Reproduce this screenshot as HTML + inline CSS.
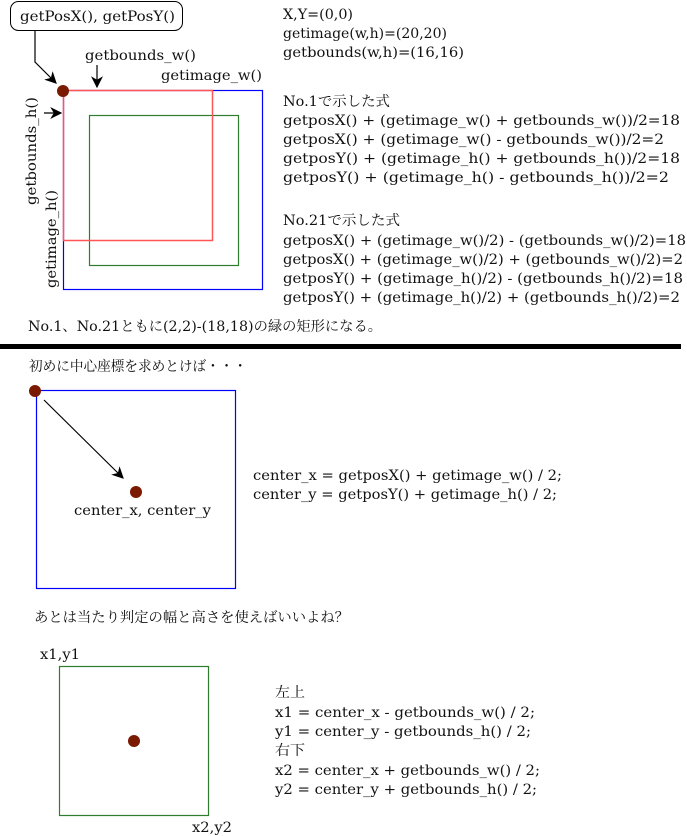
<!DOCTYPE html>
<html><head><meta charset="utf-8"><style>
html,body{margin:0;padding:0;background:#fff;}
svg{display:block;}
text{font-family:"DejaVu Serif","Liberation Serif","Noto Serif CJK SC","Noto Sans CJK JP",serif;font-size:14px;fill:#111;}
</style></head><body>
<svg width="687" height="836" viewBox="0 0 687 836" xmlns="http://www.w3.org/2000/svg">
<defs>
<marker id="ah" viewBox="0 0 10 10" refX="9" refY="5" markerWidth="12" markerHeight="12" orient="auto" markerUnits="userSpaceOnUse">
<path d="M0,0 L10,5 L0,10 L3,5 z" fill="#000"/>
</marker>
</defs>
<rect x="10.5" y="1.5" width="172" height="29" rx="8" fill="#fff" stroke="#000"/>
<text x="20" y="21" textLength="155" lengthAdjust="spacingAndGlyphs">getPosX(), getPosY()</text>
<polyline points="35,30 35,62 56,83" fill="none" stroke="#000" stroke-width="1.2" marker-end="url(#ah)"/>
<text x="85" y="60" textLength="111" lengthAdjust="spacingAndGlyphs">getbounds_w()</text>
<line x1="97" y1="65" x2="97" y2="87" stroke="#000" stroke-width="1.2" marker-end="url(#ah)"/>
<text x="161" y="80" textLength="101" lengthAdjust="spacingAndGlyphs">getimage_w()</text>
<line x1="44" y1="113" x2="61" y2="113" stroke="#000" stroke-width="1.2" marker-end="url(#ah)"/>
<text transform="translate(36,205) rotate(-90)" textLength="108" lengthAdjust="spacingAndGlyphs">getbounds_h()</text>
<text transform="translate(56,288) rotate(-90)" textLength="98" lengthAdjust="spacingAndGlyphs">getimage_h()</text>
<rect x="63.5" y="90.5" width="199" height="199" fill="none" stroke="#0000ff" stroke-width="1.2"/>
<rect x="89.5" y="115.5" width="149" height="150" fill="none" stroke="#2e7d2e" stroke-width="1.2"/>
<rect x="63.5" y="90.5" width="149" height="150" fill="none" stroke="#ff5555" stroke-width="1.5"/>
<circle cx="63" cy="91" r="6" fill="#7a1a00"/>
<text x="283" y="19" textLength="70" lengthAdjust="spacingAndGlyphs">X,Y=(0,0)</text>
<text x="283" y="38" textLength="164" lengthAdjust="spacingAndGlyphs">getimage(w,h)=(20,20)</text>
<text x="283" y="57" textLength="181" lengthAdjust="spacingAndGlyphs">getbounds(w,h)=(16,16)</text>
<text x="283" y="106" textLength="107" lengthAdjust="spacingAndGlyphs">No.1で示した式</text>
<text x="283" y="125" textLength="397" lengthAdjust="spacingAndGlyphs">getposX() + (getimage_w() + getbounds_w())/2=18</text>
<text x="283" y="144" textLength="381" lengthAdjust="spacingAndGlyphs">getposX() + (getimage_w() - getbounds_w())/2=2</text>
<text x="283" y="163" textLength="397" lengthAdjust="spacingAndGlyphs">getposY() + (getimage_h() + getbounds_h())/2=18</text>
<text x="283" y="182" textLength="386" lengthAdjust="spacingAndGlyphs">getposY() + (getimage_h() - getbounds_h())/2=2</text>
<text x="283" y="225" textLength="117" lengthAdjust="spacingAndGlyphs">No.21で示した式</text>
<text x="283" y="245" textLength="403" lengthAdjust="spacingAndGlyphs">getposX() + (getimage_w()/2) - (getbounds_w()/2)=18</text>
<text x="283" y="264" textLength="400" lengthAdjust="spacingAndGlyphs">getposX() + (getimage_w()/2) + (getbounds_w()/2)=2</text>
<text x="283" y="283" textLength="400" lengthAdjust="spacingAndGlyphs">getposY() + (getimage_h()/2) - (getbounds_h()/2)=18</text>
<text x="283" y="302" textLength="397" lengthAdjust="spacingAndGlyphs">getposY() + (getimage_h()/2) + (getbounds_h()/2)=2</text>
<text x="28" y="331" textLength="354" lengthAdjust="spacingAndGlyphs">No.1、No.21ともに(2,2)-(18,18)の緑の矩形になる。</text>
<rect x="0" y="344" width="681" height="5" fill="#000"/>
<text x="29" y="371" textLength="218" lengthAdjust="spacingAndGlyphs">初めに中心座標を求めとけば・・・</text>
<rect x="36.5" y="390.5" width="199" height="198" fill="none" stroke="#0000ff" stroke-width="1.2"/>
<circle cx="35" cy="391" r="6" fill="#7a1a00"/>
<line x1="44" y1="400" x2="123" y2="478" stroke="#000" stroke-width="1.2" marker-end="url(#ah)"/>
<circle cx="136" cy="492" r="6" fill="#7a1a00"/>
<text x="74" y="515" textLength="137" lengthAdjust="spacingAndGlyphs">center_x, center_y</text>
<text x="253" y="480" textLength="309" lengthAdjust="spacingAndGlyphs">center_x = getposX() + getimage_w() / 2;</text>
<text x="253" y="499" textLength="304" lengthAdjust="spacingAndGlyphs">center_y = getposY() + getimage_h() / 2;</text>
<text x="34" y="622" textLength="315" lengthAdjust="spacingAndGlyphs">あとは当たり判定の幅と高さを使えばいいよね？</text>
<text x="40" y="659" textLength="40" lengthAdjust="spacingAndGlyphs">x1,y1</text>
<rect x="59.5" y="666.5" width="149" height="149" fill="none" stroke="#2e7d2e" stroke-width="1.2"/>
<circle cx="134" cy="741" r="6" fill="#7a1a00"/>
<text x="192" y="832" textLength="40" lengthAdjust="spacingAndGlyphs">x2,y2</text>
<text x="275" y="697" textLength="30" lengthAdjust="spacingAndGlyphs">左上</text>
<text x="275" y="717" textLength="260" lengthAdjust="spacingAndGlyphs">x1 = center_x - getbounds_w() / 2;</text>
<text x="275" y="736" textLength="256" lengthAdjust="spacingAndGlyphs">y1 = center_y - getbounds_h() / 2;</text>
<text x="275" y="755" textLength="30" lengthAdjust="spacingAndGlyphs">右下</text>
<text x="275" y="775" textLength="265" lengthAdjust="spacingAndGlyphs">x2 = center_x + getbounds_w() / 2;</text>
<text x="275" y="794" textLength="262" lengthAdjust="spacingAndGlyphs">y2 = center_y + getbounds_h() / 2;</text>
</svg>
</body></html>
